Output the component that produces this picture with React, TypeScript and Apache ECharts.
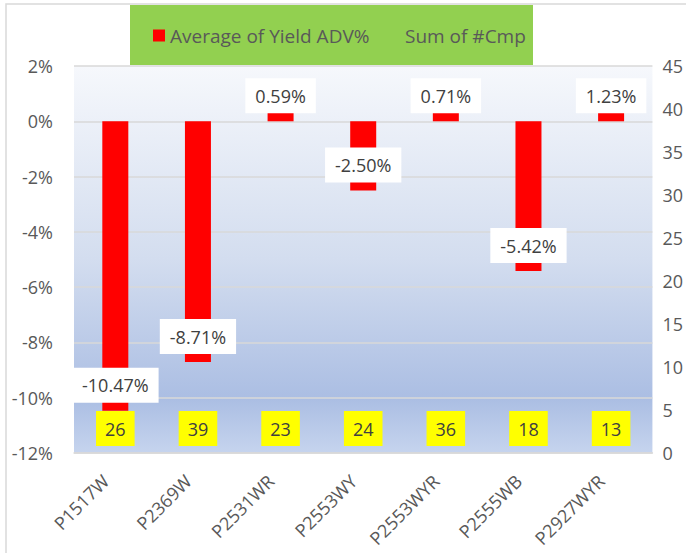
import React, { useEffect, useRef } from "react";
import * as echarts from "echarts";

const categories = ["P1517W", "P2369W", "P2531WR", "P2553WY", "P2553WYR", "P2555WB", "P2927WYR"];
const yieldAdv = [-10.47, -8.71, 0.59, -2.5, 0.71, -5.42, 1.23];
const cmpSum = [26, 39, 23, 24, 36, 18, 13];

const leftTicks = { min: -12, max: 2, interval: 2 };
const rightTicks = { min: 0, max: 45, interval: 5 };

const FONT = "Open Sans";
const AXIS_COLOR = "#595959";
const LABEL_COLOR = "#404040";
const GRID_COLOR = "#D9D9D9";

export default function App() {
  const ref = useRef<HTMLDivElement>(null);
  useEffect(() => {
    if (!ref.current) return;
    const chart = echarts.init(ref.current, null, { renderer: "svg" });
    chart.setOption({
      animation: false,
      backgroundColor: "#ffffff",
      textStyle: { fontFamily: FONT },
      graphic: [
        {
          type: "rect",
          silent: true,
          z: 0,
          shape: { x: 6, y: 4, width: 700, height: 600 },
          style: { fill: "none", stroke: "#D9D9D9", lineWidth: 1.5 },
        },
        {
          type: "rect",
          silent: true,
          z: 0,
          shape: { x: 130, y: 5, width: 403, height: 60 },
          style: { fill: "#92D050" },
        },
      ],
      legend: [
        {
          data: ["Average of Yield ADV%"],
          left: 153,
          top: 26,
          padding: 0,
          itemWidth: 12,
          itemHeight: 12,
          itemGap: 5,
          icon: "rect",
          z: 5,
          textStyle: { color: AXIS_COLOR, fontSize: 19, fontFamily: FONT, padding: [0, 0, 0, 0] },
        },
        {
          data: ["Sum of #Cmp"],
          left: 388,
          top: 26,
          padding: 0,
          itemWidth: 12,
          itemHeight: 12,
          icon: "rect",
          z: 5,
          textStyle: { color: AXIS_COLOR, fontSize: 19, fontFamily: FONT },
        },
      ],
      grid: {
        left: 74,
        right: 31,
        top: 66,
        bottom: 100,
        show: true,
        borderWidth: 0,
        backgroundColor: new echarts.graphic.LinearGradient(0, 0, 0, 1, [
          { offset: 0, color: "#F6F8FC" },
          { offset: 0.5, color: "#D3DDEF" },
          { offset: 0.86, color: "#ABBEE3" },
          { offset: 1, color: "#C6D4EE" },
        ]),
      },
      xAxis: {
        type: "category",
        data: categories,
        axisLine: { show: true, onZero: false, lineStyle: { color: GRID_COLOR, width: 1.5 } },
        axisTick: { show: false },
        axisLabel: {
          rotate: 45,
          margin: 15,
          color: AXIS_COLOR,
          fontSize: 18,
          fontFamily: FONT,
          padding: [0, 14, 0, 0],
          interval: 0,
        },
      },
      yAxis: [
        {
          type: "value",
          min: leftTicks.min,
          max: leftTicks.max,
          interval: leftTicks.interval,
          axisLine: { show: false },
          axisTick: { show: false },
          axisLabel: {
            formatter: "{value}%",
            color: AXIS_COLOR,
            fontSize: 18,
            fontFamily: FONT,
            margin: 21,
          },
          splitLine: { show: true, lineStyle: { color: GRID_COLOR, width: 1.5 } },
        },
        {
          type: "value",
          min: rightTicks.min,
          max: rightTicks.max,
          interval: rightTicks.interval,
          position: "right",
          axisLine: { show: false },
          axisTick: { show: false },
          axisLabel: { color: AXIS_COLOR, fontSize: 18, fontFamily: FONT, margin: 10 },
          splitLine: { show: false },
        },
      ],
      series: [
        {
          name: "Average of Yield ADV%",
          type: "bar",
          yAxisIndex: 0,
          data: yieldAdv,
          barWidth: 26,
          barGap: "-100%",
          itemStyle: { color: "#FF0000" },
          z: 2,
          label: {
            show: true,
            position: "insideBottom",
            distance: 8,
            formatter: (p: any) => `${Number(p.value).toFixed(2)}%`,
            backgroundColor: "#ffffff",
            padding: [8, 10],
            color: LABEL_COLOR,
            fontSize: 18,
            lineHeight: 19,
            fontFamily: FONT,
          },
        },
        {
          name: "Sum of #Cmp",
          type: "bar",
          yAxisIndex: 1,
          data: cmpSum,
          barWidth: 26,
          barGap: "-100%",
          itemStyle: { color: "rgba(0,0,0,0)" },
          z: 3,
          label: {
            show: true,
            position: "insideBottom",
            distance: 7,
            backgroundColor: "#FFFF00",
            padding: [8, 9],
            color: LABEL_COLOR,
            fontSize: 18,
            lineHeight: 19,
            fontFamily: FONT,
          },
        },
      ],
    });
    return () => chart.dispose();
  }, []);
  return (
    <div
      ref={ref}
      style={{ position: "fixed", left: 0, top: 0, width: 686, height: 553 }}
    />
  );
}
